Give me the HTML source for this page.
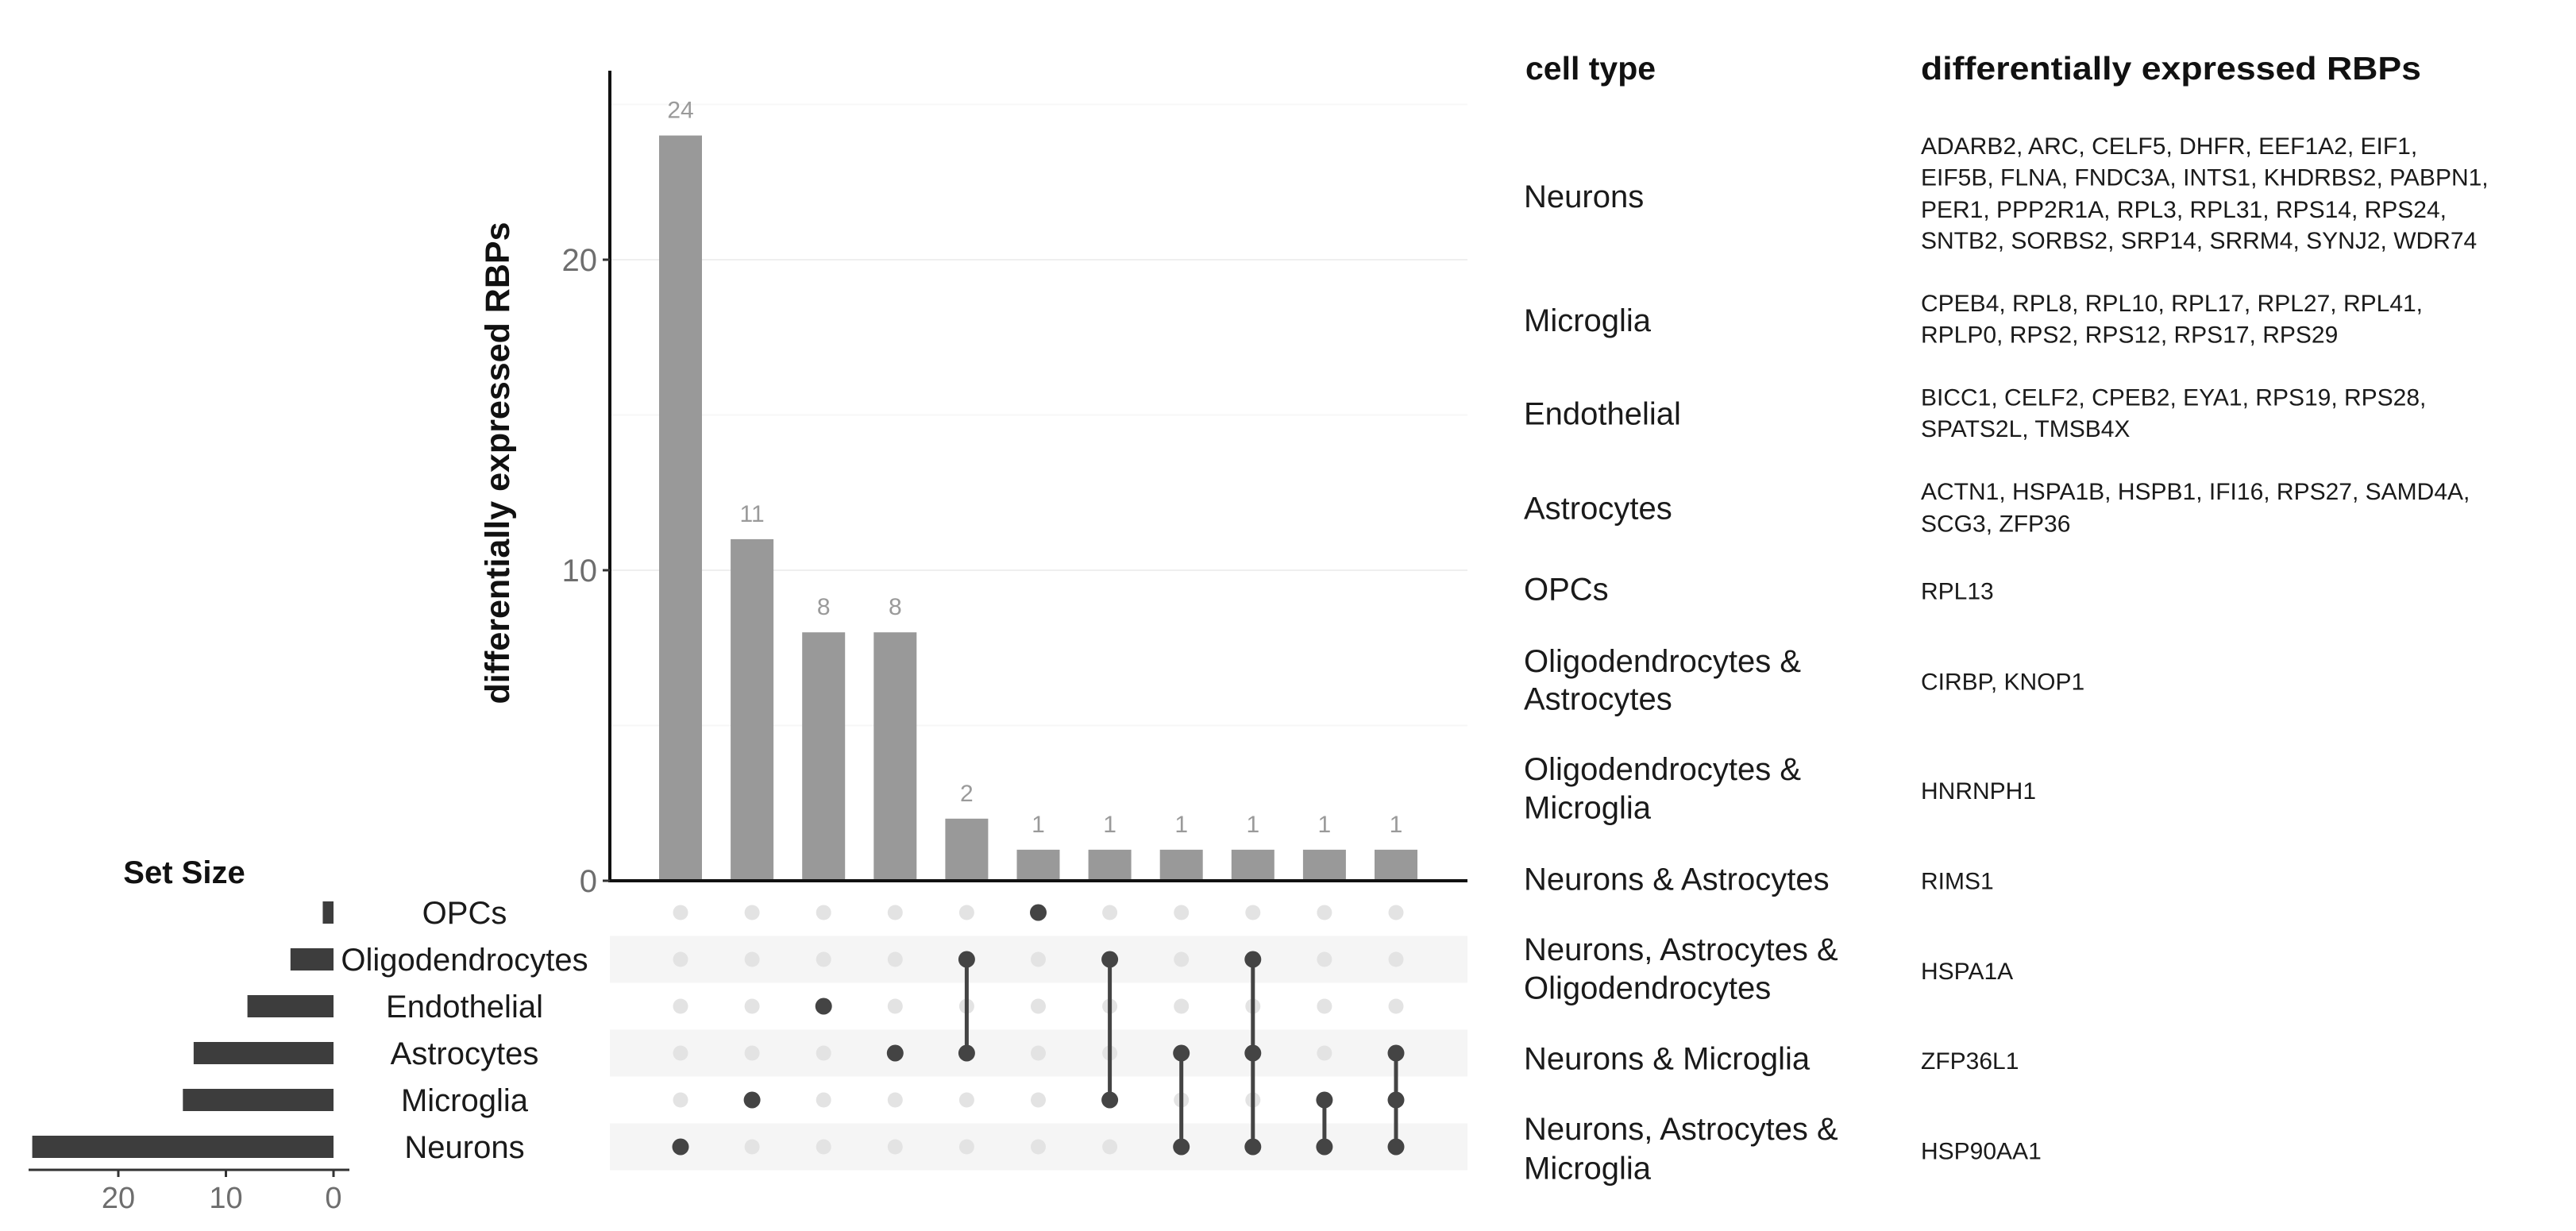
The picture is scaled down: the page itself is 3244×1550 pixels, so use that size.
<!DOCTYPE html>
<html><head><meta charset="utf-8"><style>
html,body{margin:0;padding:0;background:#fff;}
svg{display:block;font-family:"Liberation Sans",Arial,sans-serif;}
</style></head><body>
<svg id="chart" width="3244" height="1550" viewBox="0 0 3244 1550" xmlns="http://www.w3.org/2000/svg">
<g id="grid"></g>
<g id="stripes"></g>
<g id="bars"></g>
<g id="yaxis"></g>
<g id="matrix"></g>
<g id="sets"></g>
<text x="0" y="0" transform="translate(641,583) rotate(-90)" text-anchor="middle" font-size="43" font-weight="bold" fill="#111">differentially expressed RBPs</text>
<text x="232" y="1112" text-anchor="middle" font-size="40" font-weight="bold" fill="#111">Set Size</text>
<g id="table"></g>
</svg>
<script>
const combos = ["Neurons","Microglia","Endothelial","Astrocytes","Oligo+Astro","OPCs","Oligo+Micro","Neurons+Astro","Neurons+Astro+Oligo","Neurons+Micro","Neurons+Astro+Micro"];
const counts = [24,11,8,8,2,1,1,1,1,1,1];
const setNames = ["OPCs","Oligodendrocytes","Endothelial","Astrocytes","Microglia","Neurons"];
const setSizes = [1,4,8,13,14,28];
const membership = [[5],[4],[2],[3],[1,3],[0],[1,4],[3,5],[1,3,5],[4,5],[3,4,5]];
const yTicks = [0,10,20];
const setTicks = [0,10,20];

const NS="http://www.w3.org/2000/svg";
function mk(parent,tag,attrs,text){const e=document.createElementNS(NS,tag);for(const k in attrs)e.setAttribute(k,attrs[k]);if(text!==undefined)e.textContent=text;parent.appendChild(e);return e;}
const axisX=768, axisEnd=1848, baseY=1109, unitPx=39.1, axisTop=89;
function yPos(v){return baseY-v*unitPx;}
const x0=857, stepX=90.1, bw=54;
function cxPos(i){return x0+i*stepX;}
const row0=1149, rstep=59;
function ryPos(j){return row0+j*rstep;}

const grid=document.getElementById('grid');
[5,10,15,20,25].forEach(v=>{
  const l=mk(grid,'line',{x1:axisX,x2:axisEnd,y1:yPos(v),y2:yPos(v),stroke:v%10===0?'#efefef':'#f7f7f7','stroke-width':2});
  
  
});
const stripes=document.getElementById('stripes');
[1,3,5].forEach(j=>{
  const r=mk(stripes,'rect',{x:axisX,y:ryPos(j)-29.5,width:axisEnd-axisX,height:59,fill:'#f5f5f5'});
  
  
});
const bars=document.getElementById('bars');
counts.forEach((c,i)=>{
  const r=mk(bars,'rect',{x:cxPos(i)-bw/2,y:yPos(c),width:bw,height:baseY-yPos(c),fill:'#999999'});
  
  
  const t=mk(bars,'text',{x:cxPos(i),y:yPos(c)-22,'text-anchor':'middle','font-size':30,fill:'#9a9a9a'},String(c));
  
  
});
const ya=document.getElementById('yaxis');
mk(ya,'line',{x1:axisX,x2:axisX,y1:axisTop,y2:baseY+2,stroke:'#111','stroke-width':4});
mk(ya,'line',{x1:axisX-2,x2:axisEnd,y1:baseY,y2:baseY,stroke:'#111','stroke-width':4});
yTicks.forEach(v=>{
  mk(ya,'line',{x1:axisX-9,x2:axisX,y1:yPos(v),y2:yPos(v),stroke:'#333','stroke-width':3});
  const t=mk(ya,'text',{x:axisX-16,y:yPos(v)+14,'text-anchor':'end','font-size':40,fill:'#6e6e6e'},String(v));
  
  
});
const mx=document.getElementById('matrix');
membership.forEach((m,i)=>{
  const mn=Math.min(...m), mxr=Math.max(...m);
  for(let j=0;j<setNames.length;j++){
    if(!m.includes(j)){
      const c=mk(mx,'circle',{cx:cxPos(i),cy:ryPos(j),r:9.5,fill:'#e3e3e3'});
      
      
    }
  }
  if(m.length>1){
    const l=mk(mx,'line',{x1:cxPos(i),x2:cxPos(i),y1:ryPos(mn),y2:ryPos(mxr),stroke:'#444','stroke-width':5});
    
    
  }
  m.forEach(j=>{
    const c=mk(mx,'circle',{cx:cxPos(i),cy:ryPos(j),r:10.5,fill:'#444'});
    
    
  });
});
const sets=document.getElementById('sets');
const s0=420, su=13.55;
function sxPos(v){return s0-v*su;}
setSizes.forEach((v,j)=>{
  const r=mk(sets,'rect',{x:sxPos(v),y:ryPos(j)-14,width:s0-sxPos(v),height:28,fill:'#3d3d3d'});
  
  
  const t=mk(sets,'text',{x:585,y:ryPos(j)+14,'text-anchor':'middle','font-size':40,fill:'#1a1a1a'},setNames[j]);
  
  
});
mk(sets,'line',{x1:36,x2:440,y1:1473,y2:1473,stroke:'#333','stroke-width':3});
setTicks.forEach(v=>{
  mk(sets,'line',{x1:sxPos(v),x2:sxPos(v),y1:1473,y2:1482,stroke:'#333','stroke-width':3});
  const t=mk(sets,'text',{x:sxPos(v),y:1521,'text-anchor':'middle','font-size':38,fill:'#6e6e6e'},String(v));
  
  
});

const tableRows = [
 {label:["Neurons"], ly:[247], rbp:["ADARB2, ARC, CELF5, DHFR, EEF1A2, EIF1,","EIF5B, FLNA, FNDC3A, INTS1, KHDRBS2, PABPN1,","PER1, PPP2R1A, RPL3, RPL31, RPS14, RPS24,","SNTB2, SORBS2, SRP14, SRRM4, SYNJ2, WDR74"], ry:[182,222,263,303]},
 {label:["Microglia"], ly:[405], rbp:["CPEB4, RPL8, RPL10, RPL17, RPL27, RPL41,","RPLP0, RPS2, RPS12, RPS17, RPS29"], ry:[383,423]},
 {label:["Endothelial"], ly:[524], rbp:["BICC1, CELF2, CPEB2, EYA1, RPS19, RPS28,","SPATS2L, TMSB4X"], ry:[503,543]},
 {label:["Astrocytes"], ly:[645], rbp:["ACTN1, HSPA1B, HSPB1, IFI16, RPS27, SAMD4A,","SCG3, ZFP36"], ry:[623,664]},
 {label:["OPCs"], ly:[748], rbp:["RPL13"], ry:[750]},
 {label:["Oligodendrocytes &","Astrocytes"], ly:[840,888], rbp:["CIRBP, KNOP1"], ry:[866]},
 {label:["Oligodendrocytes &","Microglia"], ly:[978,1027], rbp:["HNRNPH1"], ry:[1005]},
 {label:["Neurons & Astrocytes"], ly:[1118], rbp:["RIMS1"], ry:[1120]},
 {label:["Neurons, Astrocytes &","Oligodendrocytes"], ly:[1208,1257], rbp:["HSPA1A"], ry:[1235]},
 {label:["Neurons & Microglia"], ly:[1347], rbp:["ZFP36L1"], ry:[1350]},
 {label:["Neurons, Astrocytes &","Microglia"], ly:[1437,1487], rbp:["HSP90AA1"], ry:[1465]}
];
function ty(v){return 247+(v-247)*0.9866;}
const tb=document.getElementById('table');
let hd=mk(tb,'text',{x:1921,y:100,'font-size':41,'font-weight':'bold',fill:'#111'},'cell type');


hd=mk(tb,'text',{x:2419,y:100,'font-size':41,'font-weight':'bold',fill:'#111',textLength:630,lengthAdjust:'spacingAndGlyphs'},'differentially expressed RBPs');


tableRows.forEach(r=>{
  r.label.forEach((s,k)=>{
    const t=mk(tb,'text',{x:1919,y:ty(r.ly[k])+14,'font-size':40,fill:'#1a1a1a'},s);
    
    
  });
  r.rbp.forEach((s,k)=>{
    const t=mk(tb,'text',{x:2419,y:ty(r.ry[k])+11,'font-size':30,fill:'#1a1a1a'},s);
    
    
  });
});
</script>
</body></html>
